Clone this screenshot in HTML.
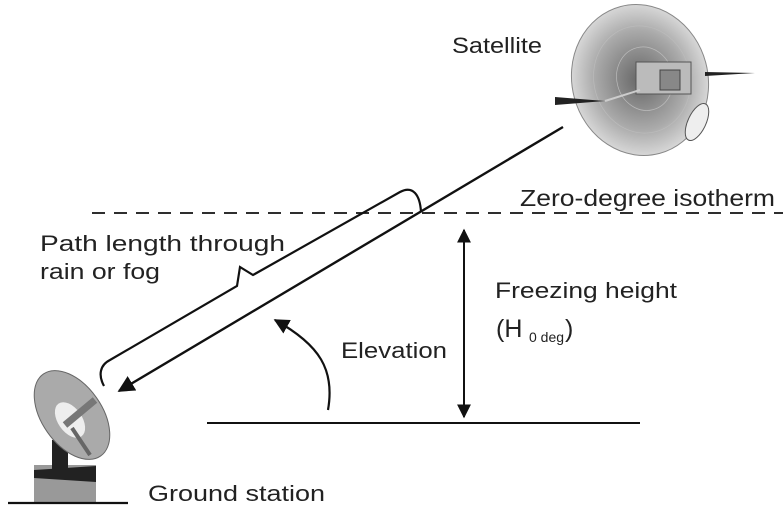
<!DOCTYPE html>
<html><head><style>
body{margin:0;background:#fff;}
svg text{font-family:"Liberation Sans",sans-serif;fill:#222;}
</style></head><body>
<svg width="783" height="510" viewBox="0 0 783 510">
<defs>
<radialGradient id="g1" cx="0.5" cy="0.5" r="0.55"><stop offset="0" stop-color="#666"/><stop offset="0.6" stop-color="#aaa"/><stop offset="1" stop-color="#e4e4e4"/></radialGradient>
<marker id="ah" viewBox="0 0 10 10" refX="9" refY="5" markerWidth="7" markerHeight="7" orient="auto-start-reverse"><path d="M0,0 L10,5 L0,10 z" fill="#111"/></marker>
</defs>
<line x1="92" y1="213" x2="783" y2="213" stroke="#111" stroke-width="1.8" stroke-dasharray="13,9"/>
<text x="520" y="206" font-size="23" textLength="255" lengthAdjust="spacingAndGlyphs">Zero-degree isotherm</text>
<ellipse cx="640" cy="80" rx="68" ry="76" fill="url(#g1)" stroke="#888" transform="rotate(-15 640 80)"/>
<g stroke="#bbb" stroke-width="0.7" fill="none">
<ellipse cx="642" cy="80" rx="48" ry="54" transform="rotate(-15 640 80)"/>
<ellipse cx="645" cy="80" rx="28" ry="32" transform="rotate(-15 640 80)"/>
</g>
<rect x="636" y="62" width="55" height="32" fill="#bbb" stroke="#555"/>
<rect x="660" y="70" width="20" height="20" fill="#888" stroke="#444"/>
<polygon points="555,97 605,101 555,105" fill="#222"/>
<polygon points="705,72 755,73 705,76" fill="#222"/>
<line x1="605" y1="101" x2="640" y2="90" stroke="#ccc" stroke-width="2"/>
<ellipse cx="697" cy="122" rx="9" ry="20" fill="#eee" stroke="#555" transform="rotate(25 697 122)"/>
<text x="452" y="53" font-size="22" textLength="90" lengthAdjust="spacingAndGlyphs">Satellite</text>
<line x1="563" y1="127" x2="119" y2="391" stroke="#111" stroke-width="2.4" marker-end="url(#ah)"/>
<path d="M104,386 C98,375 100,365 110,360 L237,286 L240,267 L253,275 L400,192 C413,185 420,195 421,212" fill="none" stroke="#111" stroke-width="2.2"/>
<text x="40" y="251" font-size="22" textLength="245" lengthAdjust="spacingAndGlyphs">Path length through</text>
<text x="40" y="279" font-size="22" textLength="120" lengthAdjust="spacingAndGlyphs">rain or fog</text>
<line x1="207" y1="423" x2="640" y2="423" stroke="#111" stroke-width="2"/>
<path d="M328,410 C335,370 320,345 275,320" fill="none" stroke="#111" stroke-width="2.2" marker-end="url(#ah)"/>
<text x="341" y="358" font-size="22" textLength="106" lengthAdjust="spacingAndGlyphs">Elevation</text>
<line x1="464" y1="230" x2="464" y2="417" stroke="#111" stroke-width="2" marker-start="url(#ah)" marker-end="url(#ah)"/>
<text x="495" y="298" font-size="22" textLength="182" lengthAdjust="spacingAndGlyphs">Freezing height</text>
<text x="496" y="337" font-size="25">(H</text>
<text x="529" y="342" font-size="14">0 deg</text>
<text x="565" y="337" font-size="25">)</text>
<rect x="34" y="465" width="62" height="37" fill="#999"/>
<path d="M34,470 L96,466 L96,482 L34,478z" fill="#222"/>
<rect x="52" y="440" width="16" height="30" fill="#222"/>
<ellipse cx="72" cy="415" rx="30" ry="50" fill="#aaa" stroke="#666" transform="rotate(-35 72 415)"/>
<ellipse cx="70" cy="420" rx="12" ry="20" fill="#eee" transform="rotate(-35 70 420)"/>
<line x1="65" y1="425" x2="95" y2="400" stroke="#777" stroke-width="7"/>
<line x1="72" y1="428" x2="90" y2="455" stroke="#666" stroke-width="4"/>
<line x1="8" y1="503" x2="128" y2="503" stroke="#111" stroke-width="2.2"/>
<text x="148" y="501" font-size="22" textLength="177" lengthAdjust="spacingAndGlyphs">Ground station</text>
</svg>
</body></html>
